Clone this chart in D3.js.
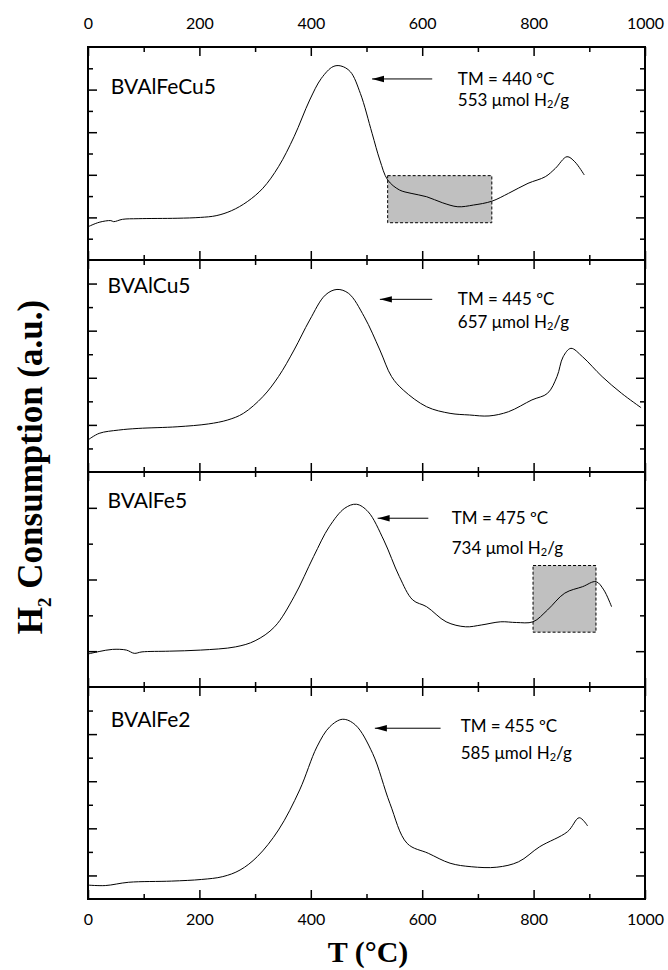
<!DOCTYPE html>
<html lang="en">

<head>
    <meta charset="UTF-8">
    <title>H2-TPR profiles</title>
    <script src="https://d3js.org/d3.v7.min.js"></script>
    <style>
        body {
            margin: 0;
            background: #fff;
        }

        .tick text {
            font-family: Lato, "Open Sans", sans-serif;
            font-size: 16px;
            fill: #000;
        }

        .tick line {
            stroke: #000;
            stroke-width: 1.5;
        }

        .sample {
            font-family: Lato, "Open Sans", sans-serif;
            font-size: 21px;
            fill: #000;
        }

        .note {
            font-family: Lato, "Open Sans", sans-serif;
            font-size: 17px;
            fill: #000;
        }

        .axis-title {
            font-family: "Liberation Serif", "Times New Roman", serif;
            font-weight: bold;
            fill: #000;
        }
    </style>
</head>

<body>
    <svg id="chart" width="668" height="970"></svg>
    <script>
        // samples, peak temperature (ºC) and H2 uptake (umol/g)
        let samples = ["BVAlFeCu5", "BVAlCu5", "BVAlFe5", "BVAlFe2"]
        let peakTM = [440, 445, 475, 455]
        let h2Uptake = [553, 657, 734, 585]

        // x ticks (T, ºC)
        let xMajor = [0, 200, 400, 600, 800, 1000]
        let xMinor = [100, 300, 500, 700, 900]

        // y tick units per panel (a.u.)
        let yMax = [10, 9, 6, 9]
        let yMajor = [[2, 4, 6, 8], [2, 4, 6, 8], [1, 3, 5], [1, 3, 5, 7]]
        let yMinor = [[1, 3, 5, 7, 9], [1, 3, 5, 7], [2, 4], [2, 4, 6, 8]]

        // profiles
        let tFeCu5 = [0, 20, 41, 46, 62, 90, 160, 202, 230, 258, 286, 314, 342, 370, 398, 419, 440, 454, 471, 489, 510, 524, 538, 559, 580, 608, 636, 664, 692, 725, 755, 790, 821, 839, 860, 874, 891]
        let hFeCu5 = [1.56, 1.77, 1.85, 1.80, 1.91, 1.94, 1.96, 2.00, 2.08, 2.32, 2.74, 3.37, 4.38, 5.79, 7.51, 8.53, 9.08, 9.11, 8.84, 7.82, 5.95, 4.69, 3.76, 3.29, 3.13, 2.97, 2.69, 2.50, 2.58, 2.76, 3.13, 3.60, 3.91, 4.30, 4.85, 4.61, 3.99]

        let tCu5 = [0, 20, 55, 90, 160, 216, 251, 279, 314, 342, 370, 398, 426, 447, 468, 496, 524, 545, 566, 608, 650, 685, 720, 755, 797, 825, 842, 853, 867, 888, 923, 958, 993]
        let hCu5 = [1.36, 1.64, 1.78, 1.85, 1.92, 2.04, 2.21, 2.49, 3.20, 4.05, 5.18, 6.45, 7.51, 7.75, 7.58, 6.59, 5.18, 4.05, 3.48, 2.77, 2.49, 2.42, 2.38, 2.56, 3.06, 3.34, 4.05, 4.89, 5.25, 4.89, 4.05, 3.34, 2.73]

        let tFe5 = [0, 20, 44, 69, 83, 97, 146, 202, 265, 300, 335, 370, 405, 433, 461, 482, 503, 531, 559, 583, 608, 643, 678, 706, 741, 769, 799, 825, 856, 888, 912, 926, 940]
        let hFe5 = [0.92, 0.99, 1.05, 1.03, 0.94, 0.98, 1.00, 1.03, 1.12, 1.29, 1.68, 2.52, 3.64, 4.47, 4.99, 5.10, 4.89, 4.10, 3.08, 2.43, 2.24, 1.82, 1.68, 1.73, 1.82, 1.80, 1.82, 2.15, 2.62, 2.80, 2.94, 2.71, 2.24]

        let tFe2 = [0, 31, 73, 150, 204, 242, 273, 304, 342, 380, 411, 434, 457, 480, 511, 542, 573, 611, 650, 688, 734, 773, 811, 861, 882, 897]
        let hFe2 = [0.59, 0.57, 0.71, 0.76, 0.83, 0.95, 1.23, 1.80, 2.93, 4.63, 6.46, 7.31, 7.63, 7.39, 6.18, 4.06, 2.36, 1.94, 1.52, 1.37, 1.35, 1.58, 2.22, 2.86, 3.45, 3.10]

        let temps = [tFeCu5, tCu5, tFe5, tFe2]
        let signals = [hFeCu5, hCu5, hFe5, hFe2]

        // shaded regions [T0, T1, y0, y1] (null = none)
        let boxes = [[538, 725, 1.75, 3.96], null, [799, 912, 1.53, 3.39], null]

        // label / annotation anchors in data units
        let labelT = [41, 35, 35, 41]
        let labelY = [7.79, 7.6, 5.0, 7.3]
        let arrowTip = [510, 524, 520, 515]
        let arrowTail = [618, 618, 611, 633]
        let arrowY = [8.5, 7.33, 4.71, 7.25]
        let noteT = [664, 664, 653, 669]
        let note1Y = [8.2, 7.09, 4.55, 7.09]
        let note2Y = [7.25, 6.11, 3.71, 5.94]

        // layout
        let left = 88, right = 645
        let panelTop = [47, 260, 472, 687]
        let panelBottom = [260, 472, 687, 899]

        let svg = d3.select("#chart")
        let x = d3.scaleLinear().domain([0, 1000]).range([left, right])

        svg.append("defs").append("marker")
            .attr("id", "arrow")
            .attr("viewBox", "0 0 12 8")
            .attr("refX", 12).attr("refY", 4)
            .attr("markerWidth", 12).attr("markerHeight", 8)
            .attr("markerUnits", "userSpaceOnUse")
            .attr("orient", "auto")
            .append("path")
            .attr("d", "M12,4L0,0.8L0,7.2Z")
            .attr("fill", "#000")

        function xAxes(g, axisFn, labelled) {
            let major = axisFn(x).tickValues(xMajor).tickSize(-9).tickSizeOuter(0)
                .tickPadding(axisFn === d3.axisTop ? 18 : 15)
                .tickFormat(labelled ? d3.format("d") : "")
            let minor = axisFn(x).tickValues(xMinor).tickSize(-5).tickSizeOuter(0).tickFormat("")
            g.append("g").call(major).call(a => a.select(".domain").remove())
            g.append("g").call(minor).call(a => a.select(".domain").remove())
        }

        function yAxes(g, axisFn, y, i) {
            let major = axisFn(y).tickValues(yMajor[i]).tickSize(-9).tickSizeOuter(0).tickFormat("")
            let minor = axisFn(y).tickValues(yMinor[i]).tickSize(-5).tickSizeOuter(0).tickFormat("")
            g.append("g").call(major).call(a => a.select(".domain").remove())
            g.append("g").call(minor).call(a => a.select(".domain").remove())
        }

        samples.forEach(function (name, i) {
            let y = d3.scaleLinear().domain([0, yMax[i]]).range([panelBottom[i], panelTop[i]])
            let g = svg.append("g").attr("class", "panel")

            if (boxes[i]) {
                let b = boxes[i]
                g.append("rect")
                    .attr("x", x(b[0])).attr("y", y(b[3]))
                    .attr("width", x(b[1]) - x(b[0]))
                    .attr("height", y(b[2]) - y(b[3]))
                    .attr("fill", "#c0c0c0")
                    .attr("stroke", "#000")
                    .attr("stroke-width", 1)
                    .attr("stroke-dasharray", "3,2")
            }

            let pts = temps[i].map((t, k) => [t, signals[i][k]])
            let line = d3.line().x(d => x(d[0])).y(d => y(d[1])).curve(d3.curveCatmullRom.alpha(0.5))
            g.append("path")
                .datum(pts)
                .attr("d", line)
                .attr("fill", "none")
                .attr("stroke", "#000")
                .attr("stroke-width", 1)

            // frame + ticks
            xAxes(g.append("g").attr("transform", `translate(0,${panelTop[i]})`), d3.axisTop, i === 0)
            xAxes(g.append("g").attr("transform", `translate(0,${panelBottom[i]})`), d3.axisBottom, i === samples.length - 1)
            yAxes(g.append("g").attr("transform", `translate(${left},0)`), d3.axisLeft, y, i)
            yAxes(g.append("g").attr("transform", `translate(${right},0)`), d3.axisRight, y, i)
            g.append("rect")
                .attr("x", left).attr("y", panelTop[i])
                .attr("width", right - left).attr("height", panelBottom[i] - panelTop[i])
                .attr("fill", "none").attr("stroke", "#000").attr("stroke-width", 2)

            g.append("text").attr("class", "sample")
                .attr("x", x(labelT[i])).attr("y", y(labelY[i]))
                .text(name)

            g.append("line")
                .attr("x1", x(arrowTail[i])).attr("x2", x(arrowTip[i]))
                .attr("y1", y(arrowY[i])).attr("y2", y(arrowY[i]))
                .attr("stroke", "#000").attr("stroke-width", 1)
                .attr("marker-end", "url(#arrow)")

            g.append("text").attr("class", "note")
                .attr("x", x(noteT[i])).attr("y", y(note1Y[i]))
                .text("TM = " + peakTM[i] + " ºC")

            let n2 = g.append("text").attr("class", "note")
                .attr("x", x(noteT[i])).attr("y", y(note2Y[i]))
            n2.append("tspan").text(h2Uptake[i] + " μmol H")
            n2.append("tspan").attr("font-size", 11).attr("dy", 2).text("2")
            n2.append("tspan").attr("dy", -2).text("/g")
        })

        // axis titles
        let yTitle = svg.append("text").attr("class", "axis-title")
            .attr("font-size", 35)
            .attr("text-anchor", "middle")
            .attr("transform", "translate(42,467) rotate(-90)")
        yTitle.append("tspan").text("H")
        yTitle.append("tspan").attr("font-size", 19).attr("dy", 9).text("2")
        yTitle.append("tspan").attr("dy", -9).text(" Consumption (a.u.)")

        svg.append("text").attr("class", "axis-title")
            .attr("font-size", 30)
            .attr("text-anchor", "middle")
            .attr("x", 368).attr("y", 962)
            .text("T (°C)")
    </script>
</body>

</html>
